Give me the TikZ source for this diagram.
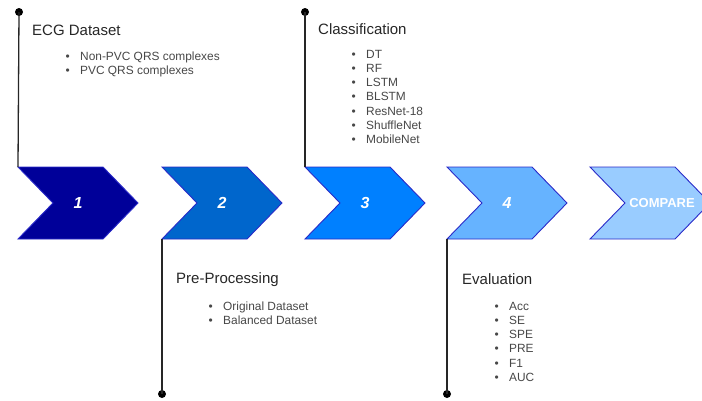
\documentclass[tikz,border=0pt]{standalone}
\usepackage{fontspec}
\setmainfont{Liberation Sans}
\usetikzlibrary{positioning}
\definecolor{stepA}{HTML}{000099}
\definecolor{stepB}{HTML}{0066CC}
\definecolor{stepC}{HTML}{0080FF}
\definecolor{stepD}{HTML}{66B3FF}
\definecolor{stepE}{HTML}{99CCFF}
\definecolor{chevline}{HTML}{2A2AC8}
\tikzset{
	chev/.style={draw=chevline, line width=0.9pt, line join=miter},
	dot/.style={circle, fill=black, inner sep=0pt, minimum size=8pt},
	stem/.style={line width=1.3pt, black!85},
	ttl/.style={anchor=west, inner sep=0pt, text=black!85, font=\fontsize{15}{18}\selectfont},
	itm/.style={anchor=west, inner sep=0pt, text height=8.5pt, text depth=2.5pt, text=black!72, font=\fontsize{11.9}{14}\selectfont},
	num/.style={text=white, inner sep=0pt, font=\fontsize{16}{18}\selectfont\bfseries\itshape}
}

\begin{document}
\begin{tikzpicture}[x=1pt,y=-1pt]
	\useasboundingbox (0,0) rectangle (702,400);
	\clip (0,0) rectangle (702,400); % last arrow runs off the page
	
	%Fleches
	\foreach \x/\c/\n in {18/stepA/1,162/stepB/2,305/stepC/3,447/stepD/4}{
		\filldraw[chev, fill=\c] (\x,167) -- ++(85,0) -- ++(35,36) -- ++(-35,36) -- ++(-85,0) -- ++(35,-36) -- cycle;
		\coordinate (t\n) at (\x,167);
		\coordinate (b\n) at (\x,239);
		\node[num] (c\n) at (\x+60,203) {\n};
	}
	\filldraw[chev, fill=stepE] (590,167) -- ++(85,0) -- ++(35,36) -- ++(-35,36) -- ++(-85,0) -- ++(35,-36) -- cycle;
	\node[num, font=\fontsize{13}{15}\selectfont\bfseries] (c5) at (662,203) {COMPARE};
	
	%Tiges
	\node[dot] (d1) at (19,12) {};
	\node[dot] (d2) at (162,394) {};
	\node[dot] (d3) at (305,12) {};
	\node[dot] (d4) at (447,394) {};
	\draw[stem] (d1.center) -- (t1);
	\draw[stem] (b2) -- (d2.center);
	\draw[stem] (d3.center) -- (t3);
	\draw[stem] (b4) -- (d4.center);
	
	%Textes
	\node[ttl] (ecg) at (32,30) {ECG Dataset};
	\foreach \t [count=\i] in {Non-PVC QRS complexes,PVC QRS complexes}{
		\node[itm] (ecg\i) at (80,42.7+14.3*\i) {\t};
		\node[itm, left=10pt of ecg\i] {\textbullet};
	}
	
	\node[ttl] (pre) at (176,280) {Pre-Processing};
	\foreach \t [count=\i] in {Original Dataset,Balanced Dataset}{
		\node[itm] (pre\i) at (223,292.7+14.3*\i) {\t};
		\node[itm, left=10pt of pre\i] {\textbullet};
	}
	
	\node[ttl] (cla) at (318,29) {Classification};
	\foreach \t [count=\i] in {DT,RF,LSTM,BLSTM,ResNet-18,ShuffleNet,MobileNet}{
		\node[itm] (cla\i) at (366,40.7+14.3*\i) {\t};
		\node[itm, left=10pt of cla\i] {\textbullet};
	}
	
	\node[ttl] (eva) at (462,279) {Evaluation};
	\foreach \t [count=\i] in {Acc,SE,SPE,PRE,F1,AUC}{
		\node[itm] (eva\i) at (509,292.7+14.3*\i) {\t};
		\node[itm, left=10pt of eva\i] {\textbullet};
	}
\end{tikzpicture}
\end{document}
